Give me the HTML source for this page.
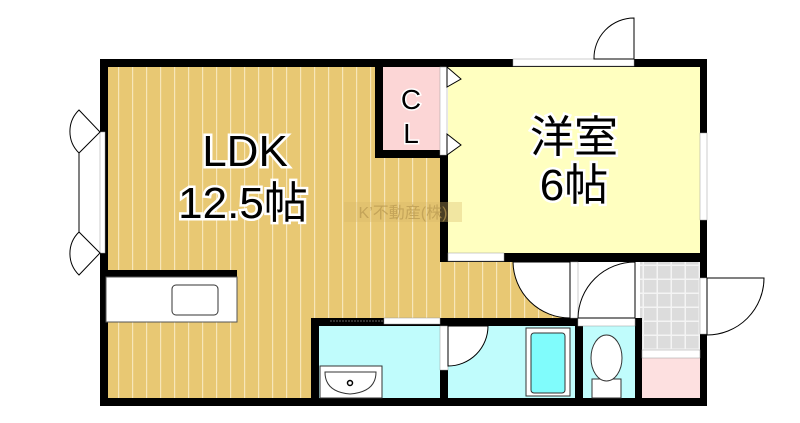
<!DOCTYPE html>
<html><head><meta charset="utf-8"><style>
html,body{margin:0;padding:0;background:#fff;width:800px;height:423px;overflow:hidden}
text{font-family:"Liberation Sans","Noto Sans CJK JP",sans-serif}
</style></head><body>
<svg width="800" height="423" viewBox="0 0 800 423" xmlns="http://www.w3.org/2000/svg">
<defs>
<pattern id="wood" width="14" height="10" patternUnits="userSpaceOnUse">
<rect width="14" height="10" fill="#e8c873"/><rect x="6" width="1.2" height="10" fill="#f7e6b8"/>
</pattern>
<pattern id="tile" width="14" height="14" patternUnits="userSpaceOnUse">
<rect width="14" height="14" fill="#dcdcdc"/><rect x="12.5" width="1.5" height="14" fill="#f4f4f4"/><rect y="12.5" width="14" height="1.5" fill="#f4f4f4"/>
</pattern>
</defs>
<rect x="104" y="63" width="340" height="340" fill="url(#wood)"/>
<rect x="444" y="253" width="134" height="70" fill="url(#wood)"/>
<rect x="448" y="63" width="254" height="192" fill="#ffffc0"/>
<rect x="383" y="67" width="57" height="84" fill="#fcd6d6"/>
<rect x="640" y="262" width="62" height="88" fill="url(#tile)"/>
<rect x="642" y="358" width="58" height="40" fill="#fde0e0"/>
<rect x="319" y="326" width="121" height="72" fill="#c0fcfc"/>
<rect x="448" y="326" width="127" height="72" fill="#c0fcfc"/>
<rect x="578" y="326" width="57" height="72" fill="#c0fcfc"/>
<g fill="#000">
<rect x="100" y="59" width="607" height="8"/>
<rect x="100" y="59" width="8" height="347"/>
<rect x="100" y="398" width="607" height="8"/>
<rect x="700" y="59" width="7" height="347"/>
<rect x="375" y="59" width="8" height="99"/>
<rect x="375" y="150" width="72" height="8"/>
<rect x="440" y="150" width="8" height="112"/>
<rect x="440" y="253" width="267" height="9"/>
<rect x="100" y="270" width="137" height="7"/>
<rect x="311" y="318" width="269" height="8"/>
<rect x="311" y="318" width="8" height="88"/>
<rect x="440" y="318" width="8" height="88"/>
<rect x="575" y="318" width="8" height="88"/>
<rect x="635" y="318" width="7" height="88"/>
</g>
<rect x="513" y="59" width="121" height="7" fill="#fff" stroke="#999" stroke-width="0.5"/>
<rect x="700" y="133" width="7" height="87" fill="#fff" stroke="#999" stroke-width="0.5"/>
<rect x="100" y="132" width="5" height="121" fill="#fff" stroke="#999" stroke-width="0.5"/>
<rect x="700" y="278" width="7" height="56" fill="#fff" stroke="#999" stroke-width="0.5"/>
<rect x="440" y="67" width="7" height="88" fill="#fff" stroke="#999" stroke-width="0.5"/>
<rect x="448" y="253" width="56" height="8" fill="#fff" stroke="#999" stroke-width="0.5"/>
<rect x="570" y="262" width="8" height="56" fill="#fff" stroke="#999" stroke-width="0.5"/>
<rect x="578" y="318" width="57" height="8" fill="#fff" stroke="#999" stroke-width="0.5"/>
<rect x="384" y="318" width="56" height="6" fill="#fff" stroke="#999" stroke-width="0.5"/>
<rect x="440" y="326" width="8" height="44" fill="#fff" stroke="#999" stroke-width="0.5"/>
<rect x="642" y="350" width="58" height="8" fill="#fff" stroke="#999" stroke-width="0.5"/>
<line x1="330" y1="321" x2="384" y2="321" stroke="#666" stroke-dasharray="2,1"/>
<g fill="#fff" stroke="#000" stroke-width="1">
<path d="M634 59 L634 18 A40 40 0 0 0 594 59 Z"/>
<path d="M513 262 L570 262 L570 318 A57 57 0 0 1 513 262 Z"/>
<path d="M635 262 L635 318 L578 318 A57 57 0 0 1 635 262 Z"/>
<path d="M448 326 L488 326 A40 40 0 0 1 448 366 Z"/>
<path d="M707 278 L764 278 A57 57 0 0 1 707 335 Z"/>
<path d="M447 67 L461 79 L447 87 Z M447 134 L461 145 L447 155 Z"/>
<path d="M100 132 L79 110 A30 30 0 0 0 79 153 Z M100 253 L79 232 A30 30 0 0 0 79 275 Z"/>
<line x1="79" y1="153" x2="79" y2="232"/>
</g>
<rect x="106" y="277" width="131" height="45" fill="#fff" stroke="#555"/>
<rect x="172" y="285" width="46" height="30" rx="4" fill="#fff" stroke="#333"/>
<rect x="320" y="366" width="62" height="32" fill="#fff" stroke="#333"/>
<path d="M325 372 L376 372 Q376 392 350 394 Q325 392 325 372 Z" fill="#fff" stroke="#333"/>
<circle cx="350" cy="383" r="2.5" fill="none" stroke="#000" stroke-width="1.5"/>
<rect x="526" y="328" width="44" height="68" fill="#fff" stroke="#333"/>
<rect x="531" y="333" width="34" height="60" rx="3" fill="#80fcfc" stroke="#333"/>
<rect x="592" y="379" width="29" height="19" fill="#fff" stroke="#333"/>
<ellipse cx="606.5" cy="358" rx="15.5" ry="23" fill="#fff" stroke="#333"/>
<g font-size="44" text-anchor="middle" fill="#000" stroke="#fff" stroke-width="5" paint-order="stroke">
<text x="245" y="166">LDK</text>
<text x="243" y="218">12.5帖</text>
<text x="574" y="152">洋室</text>
<text x="574" y="200">6帖</text>
<text x="411" y="109" font-size="28" stroke-width="3">C</text>
<text x="411" y="143" font-size="28" stroke-width="3">L</text>
</g>
<rect x="344" y="202" width="118" height="20" fill="#d8b868" opacity="0.35"/>
<text x="403" y="218" font-size="16" text-anchor="middle" fill="#b89850" opacity="0.7">K’不動産(株)</text>
</svg>
</body></html>
